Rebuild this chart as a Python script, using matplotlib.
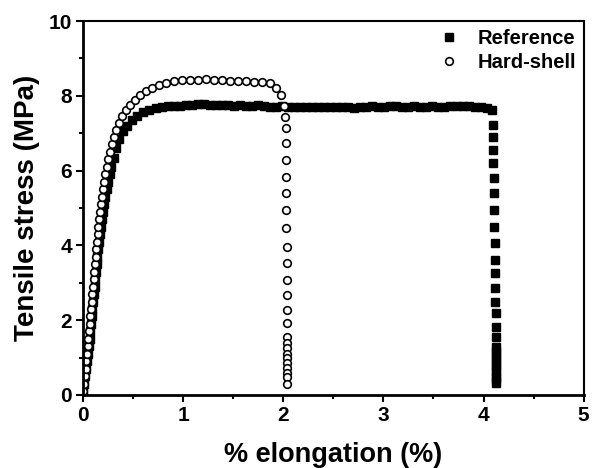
import matplotlib
matplotlib.use("Agg")
import matplotlib.pyplot as plt
from matplotlib.ticker import MultipleLocator

plt.rcParams['font.family'] = ['Liberation Sans', 'DejaVu Sans']
plt.rcParams['font.weight'] = 'bold'

# Reference (filled squares)
ref_x = [0.00, 0.015, 0.025, 0.035, 0.045, 0.05, 0.06, 0.07, 0.075, 0.085, 0.09, 0.095, 0.105,
         0.11, 0.12, 0.125, 0.13, 0.14, 0.145, 0.155, 0.16, 0.17, 0.18, 0.19, 0.20, 0.215,
         0.225, 0.24, 0.255, 0.27, 0.285, 0.31, 0.33, 0.36, 0.40, 0.44, 0.49, 0.54, 0.60,
         0.66, 0.73, 0.79, 0.85,
         0.91, 0.97, 1.03, 1.09, 1.15, 1.21, 1.27, 1.33, 1.39, 1.45, 1.51, 1.57, 1.63, 1.69,
         1.75, 1.81, 1.87, 1.93, 1.99, 2.05, 2.11, 2.17, 2.23, 2.29, 2.35, 2.41, 2.47, 2.53,
         2.59, 2.65, 2.71, 2.77, 2.83, 2.89, 2.95, 3.01, 3.07, 3.13, 3.19, 3.25, 3.31, 3.37,
         3.43, 3.49, 3.55, 3.61, 3.67, 3.73, 3.79, 3.85, 3.91, 3.97, 4.03, 4.08,
         4.09, 4.09, 4.09, 4.09, 4.10, 4.10, 4.10, 4.10, 4.11, 4.11, 4.11, 4.11, 4.11, 4.12,
         4.12, 4.12, 4.12, 4.12, 4.12, 4.12, 4.12, 4.12, 4.12, 4.12, 4.12, 4.12]
ref_y = [0.10, 0.30, 0.50, 0.70, 0.90, 1.10, 1.30, 1.50, 1.70, 1.90, 2.10, 2.30, 2.50,
         2.70, 2.90, 3.10, 3.30, 3.50, 3.70, 3.90, 4.10, 4.30, 4.50, 4.70, 4.90, 5.10,
         5.30, 5.50, 5.70, 5.90, 6.10, 6.35, 6.60, 6.85, 7.05, 7.20, 7.35, 7.47, 7.56,
         7.62, 7.67, 7.70, 7.72,
         7.73, 7.74, 7.75, 7.76, 7.78, 7.77, 7.76, 7.75, 7.76, 7.75, 7.74, 7.76, 7.74, 7.73,
         7.75, 7.72, 7.71, 7.70, 7.72, 7.70, 7.71, 7.70, 7.69, 7.71, 7.70, 7.70, 7.69, 7.70,
         7.71, 7.69, 7.68, 7.70, 7.71, 7.72, 7.70, 7.71, 7.73, 7.72, 7.70, 7.71, 7.72, 7.70,
         7.71, 7.72, 7.71, 7.70, 7.72, 7.74, 7.73, 7.72, 7.71, 7.70, 7.68, 7.62,
         7.22, 6.90, 6.55, 6.20, 5.80, 5.40, 4.95, 4.50, 4.06, 3.61, 3.25, 2.85, 2.50, 2.18,
         1.83, 1.56, 1.29, 1.18, 1.07, 0.96, 0.85, 0.74, 0.63, 0.52, 0.42, 0.31]

# Hard-shell (open circles)
hs_x = [0.00, 0.01, 0.02, 0.03, 0.035, 0.04, 0.05, 0.055, 0.06, 0.07, 0.075, 0.08, 0.09,
        0.095, 0.10, 0.11, 0.115, 0.12, 0.13, 0.135, 0.14, 0.15, 0.155, 0.16, 0.17, 0.18,
        0.19, 0.20, 0.21, 0.225, 0.24, 0.255, 0.27, 0.29, 0.31, 0.335, 0.36, 0.39, 0.43,
        0.47, 0.52, 0.57, 0.63, 0.69, 0.76, 0.83, 0.91, 0.99, 1.07, 1.15, 1.23, 1.31, 1.39,
        1.47, 1.55, 1.63, 1.71, 1.79, 1.87, 1.93, 1.98, 2.01, 2.02, 2.03, 2.03, 2.03, 2.03,
        2.03, 2.03, 2.03, 2.035, 2.035, 2.035, 2.04, 2.04, 2.04, 2.04, 2.04, 2.04, 2.04,
        2.04, 2.04, 2.04, 2.04, 2.04, 2.04]
hs_y = [0.10, 0.30, 0.50, 0.70, 0.90, 1.10, 1.30, 1.50, 1.70, 1.90, 2.10, 2.30, 2.50,
        2.70, 2.90, 3.10, 3.30, 3.50, 3.70, 3.90, 4.10, 4.30, 4.50, 4.70, 4.90, 5.10,
        5.30, 5.50, 5.70, 5.90, 6.10, 6.30, 6.50, 6.70, 6.90, 7.10, 7.28, 7.45, 7.62,
        7.76, 7.90, 8.02, 8.13, 8.21, 8.28, 8.34, 8.39, 8.42, 8.42, 8.43, 8.45, 8.43, 8.42,
        8.41, 8.41, 8.39, 8.37, 8.36, 8.35, 8.22, 8.02, 7.72, 7.44, 7.13, 6.73, 6.28, 5.84,
        5.39, 4.95, 4.46, 3.97, 3.52, 3.07, 2.67, 2.27, 1.92, 1.56, 1.40, 1.25, 1.10,
        0.98, 0.85, 0.71, 0.60, 0.49, 0.29]

fig = plt.figure(figsize=(5.92, 4.68), dpi=100)
ax = fig.add_axes([0.140, 0.156, 0.846, 0.799])

ax.plot(ref_x, ref_y, 's', color='black', markersize=5.5, label='Reference')
ax.plot(hs_x, hs_y, 'o', markerfacecolor='white', markeredgecolor='black',
        markeredgewidth=1.2, markersize=5.5, label='Hard-shell')

ax.set_xlim(0, 5)
ax.set_ylim(0, 10)
ax.xaxis.set_major_locator(MultipleLocator(1))
ax.xaxis.set_minor_locator(MultipleLocator(0.5))
ax.yaxis.set_major_locator(MultipleLocator(2))
ax.yaxis.set_minor_locator(MultipleLocator(1))
ax.tick_params(which='both', direction='out', top=False, right=False, width=1.5,
               labelsize=15, pad=3)
ax.tick_params(which='major', length=5)
ax.tick_params(which='minor', length=3)
for sp in ax.spines.values():
    sp.set_linewidth(1.5)
for s in ['left', 'bottom']:
    ax.spines[s].set_linewidth(2)

ax.set_xlabel('% elongation (%)', fontsize=19.5, fontweight='bold', labelpad=12)
ax.set_ylabel('Tensile stress (MPa)', fontsize=20, fontweight='bold', labelpad=6)

ax.legend(loc='upper right', frameon=False, handletextpad=0.7,
          borderaxespad=0.0, labelspacing=0.25, handlelength=1.4,
          prop={'weight': 'bold', 'size': 14.5})

fig.savefig('out.png', dpi=100)
